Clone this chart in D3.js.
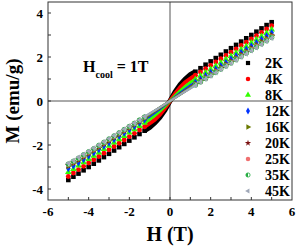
<!DOCTYPE html>
<html>
<head>
<meta charset="utf-8">
<script src="https://cdn.jsdelivr.net/npm/d3@7"></script>
<style>
  html, body { margin: 0; padding: 0; background: #fff; }
  svg { display: block; font-family: "Liberation Serif", "Times New Roman", serif; font-weight: bold; }
</style>
</head>
<body>
<div class="mh_graph"></div>
<script>
// field values (T)
const field = [-5, -4.75, -4.5, -4.25, -4, -3.75, -3.5, -3.25, -3, -2.75, -2.5, -2.25, -2, -1.75, -1.5, -1.25,
  -1, -0.75, -0.5, -0.25, 0, 0.25, 0.5, 0.75, 1,
  1.25, 1.5, 1.75, 2, 2.25, 2.5, 2.75, 3, 3.25, 3.5, 3.75, 4, 4.25, 4.5, 4.75, 5];

// magnetization (emu/g) per temperature
const m2K = [-3.59, -3.44, -3.30, -3.15, -3.00, -2.85, -2.70, -2.55, -2.40, -2.25, -2.10, -1.95, -1.80, -1.65, -1.50, -1.35,
  -1.20, -1.00, -0.75, -0.42, 0, 0.42, 0.75, 1.00, 1.20,
  1.33, 1.49, 1.65, 1.80, 1.95, 2.10, 2.25, 2.40, 2.55, 2.70, 2.85, 3.00, 3.15, 3.30, 3.45, 3.58];
const m4K = [-3.43, -3.27, -3.12, -2.97, -2.82, -2.67, -2.52, -2.37, -2.22, -2.07, -1.92, -1.77, -1.62, -1.47, -1.32, -1.17,
  -1.02, -0.85, -0.62, -0.33, 0, 0.33, 0.62, 0.85, 1.02,
  1.17, 1.32, 1.47, 1.62, 1.77, 1.92, 2.07, 2.22, 2.37, 2.52, 2.67, 2.82, 2.97, 3.12, 3.27, 3.42];
const m8K = [-3.23, -3.09, -2.94, -2.79, -2.64, -2.49, -2.34, -2.19, -2.04, -1.89, -1.74, -1.59, -1.44, -1.29, -1.14, -0.99,
  -0.84, -0.66, -0.46, -0.24, 0, 0.24, 0.46, 0.66, 0.84,
  0.99, 1.14, 1.29, 1.44, 1.59, 1.74, 1.89, 2.04, 2.19, 2.34, 2.49, 2.64, 2.79, 2.94, 3.09, 3.25];
const m12K = [-3.07, -2.94, -2.80, -2.65, -2.50, -2.35, -2.20, -2.05, -1.90, -1.75, -1.60, -1.45, -1.30, -1.15, -1.00, -0.85,
  -0.70, -0.53, -0.36, -0.18, 0, 0.18, 0.36, 0.53, 0.70,
  0.85, 1.00, 1.15, 1.30, 1.45, 1.60, 1.75, 1.90, 2.05, 2.20, 2.35, 2.50, 2.65, 2.80, 2.95, 3.10];
const m16K = [-2.96, -2.83, -2.69, -2.55, -2.40, -2.25, -2.11, -1.96, -1.81, -1.66, -1.52, -1.37, -1.22, -1.07, -0.93, -0.78,
  -0.63, -0.47, -0.32, -0.16, 0, 0.16, 0.32, 0.47, 0.63,
  0.78, 0.93, 1.07, 1.22, 1.37, 1.52, 1.66, 1.81, 1.96, 2.11, 2.25, 2.40, 2.55, 2.70, 2.84, 2.99];
const m20K = [-2.93, -2.80, -2.66, -2.52, -2.37, -2.22, -2.08, -1.93, -1.79, -1.64, -1.49, -1.35, -1.20, -1.05, -0.91, -0.76,
  -0.61, -0.45, -0.30, -0.15, 0, 0.15, 0.30, 0.45, 0.61,
  0.76, 0.91, 1.05, 1.20, 1.35, 1.49, 1.64, 1.79, 1.93, 2.08, 2.22, 2.37, 2.52, 2.66, 2.81, 2.96];
const m25K = [-2.90, -2.77, -2.63, -2.49, -2.34, -2.20, -2.05, -1.91, -1.76, -1.62, -1.47, -1.33, -1.18, -1.04, -0.89, -0.75,
  -0.60, -0.44, -0.29, -0.15, 0, 0.15, 0.29, 0.44, 0.60,
  0.75, 0.89, 1.04, 1.18, 1.33, 1.47, 1.62, 1.76, 1.91, 2.05, 2.20, 2.34, 2.49, 2.63, 2.78, 2.92];
const m35K = [-2.87, -2.74, -2.60, -2.45, -2.31, -2.17, -2.02, -1.88, -1.73, -1.59, -1.45, -1.30, -1.16, -1.02, -0.87, -0.73,
  -0.59, -0.44, -0.29, -0.14, 0, 0.14, 0.29, 0.44, 0.59,
  0.73, 0.87, 1.02, 1.16, 1.30, 1.45, 1.59, 1.73, 1.88, 2.02, 2.17, 2.31, 2.45, 2.60, 2.74, 2.89];
const m45K = [-2.83, -2.70, -2.56, -2.42, -2.28, -2.14, -2.00, -1.85, -1.71, -1.57, -1.43, -1.28, -1.14, -1.00, -0.86, -0.71,
  -0.57, -0.43, -0.29, -0.14, 0, 0.14, 0.29, 0.43, 0.57,
  0.71, 0.86, 1.00, 1.14, 1.28, 1.43, 1.57, 1.71, 1.85, 2.00, 2.14, 2.28, 2.42, 2.57, 2.71, 2.85];

const labels = ["2K", "4K", "8K", "12K", "16K", "20K", "25K", "35K", "45K"];
const values = [m2K, m4K, m8K, m12K, m16K, m20K, m25K, m35K, m45K];
const xTicks = [-6, -4, -2, 0, 2, 4, 6];
const yTicks = [-4, -2, 0, 2, 4];

const colors = ["#000000", "#ff0000", "#33ff00", "#0033ff", "#6b7a00", "#7a1010", "#f07070", "#1faa3c", "#a0a8b8"];
const shapes = ["square", "circle", "triUp", "diamond", "triRight", "star", "circle", "half", "triLeft"];
const coreWidth = [5, 4, 3, 2.5, 2.5, 2.2, 2.2, 2.2, 2.2];

const W = 297, H = 247;
const box = { left: 48, right: 292, top: 2, bottom: 200 };

const svg = d3.select(".mh_graph").append("svg").attr("width", W).attr("height", H);

const x = d3.scaleLinear().domain([-6, 6]).range([box.left, box.right]);
const y = d3.scaleLinear().domain([-4.5, 4.5]).range([box.bottom, box.top]);

// zero lines
svg.append("line").attr("x1", x(0)).attr("x2", x(0)).attr("y1", box.top).attr("y2", box.bottom)
  .attr("stroke", "#555").attr("stroke-width", 1);
svg.append("line").attr("x1", box.left).attr("x2", box.right).attr("y1", y(0)).attr("y2", y(0))
  .attr("stroke", "#555").attr("stroke-width", 1);

function marker(g, shape, color, s) {
  if (shape === "square") {
    g.append("path").attr("d", d3.symbol(d3.symbolSquare, s * s)()).attr("fill", color);
  } else if (shape === "circle") {
    g.append("path").attr("d", d3.symbol(d3.symbolCircle, s * s * 0.9)()).attr("fill", color);
  } else if (shape === "triUp") {
    g.append("path").attr("d", d3.symbol(d3.symbolTriangle, s * s * 0.9)()).attr("fill", color);
  } else if (shape === "diamond") {
    g.append("path").attr("d", d3.symbol(d3.symbolDiamond, s * s * 0.8)()).attr("fill", color);
  } else if (shape === "triRight") {
    g.append("path").attr("d", d3.symbol(d3.symbolTriangle, s * s * 0.8)()).attr("fill", color)
      .attr("transform", "rotate(90)");
  } else if (shape === "triLeft") {
    g.append("path").attr("d", d3.symbol(d3.symbolTriangle, s * s * 0.6)()).attr("fill", color)
      .attr("transform", "rotate(-90)");
  } else if (shape === "star") {
    g.append("path").attr("d", d3.symbol(d3.symbolStar, s * s * 0.7)()).attr("fill", color);
  } else if (shape === "half") {
    const r = s * 0.5;
    g.append("circle").attr("r", r).attr("fill", "#fff").attr("stroke", color).attr("stroke-width", 0.8);
    g.append("path").attr("d", `M0,${-r}A${r},${r} 0 0 0 0,${r}Z`).attr("fill", color);
  }
}

const line = d3.line().x((d) => x(d[0])).y((d) => y(d[1]));

values.forEach((vals, k) => {
  const pts = field.map((h, i) => [h, vals[i]]);
  // dense low-field part drawn as a thick trace
  svg.append("path")
    .datum(pts.filter((d) => Math.abs(d[0]) <= 1.25))
    .attr("d", line)
    .attr("fill", "none")
    .attr("stroke", colors[k])
    .attr("stroke-width", coreWidth[k]);

  pts.filter((d) => Math.abs(d[0]) >= 1.25).forEach((d) => {
    const g = svg.append("g").attr("transform", `translate(${x(d[0])},${y(d[1])})`);
    marker(g, shapes[k], colors[k], 4.6);
  });
});

// frame
svg.append("rect").attr("x", box.left).attr("y", box.top)
  .attr("width", box.right - box.left).attr("height", box.bottom - box.top)
  .attr("fill", "none").attr("stroke", "#333").attr("stroke-width", 1);

// ticks (inward)
d3.range(-5, 6, 1).forEach((t) => {
  svg.append("line").attr("x1", x(t)).attr("x2", x(t)).attr("y1", box.bottom).attr("y2", box.bottom - 3)
    .attr("stroke", "#333");
});
d3.range(-4, 5, 1).forEach((t) => {
  svg.append("line").attr("x1", box.left).attr("x2", box.left + 3).attr("y1", y(t)).attr("y2", y(t))
    .attr("stroke", "#333");
});

svg.selectAll(".xt").data(xTicks).enter().append("text")
  .attr("x", (d) => x(d)).attr("y", 216).attr("text-anchor", "middle")
  .attr("font-size", 13).text((d) => d);

svg.selectAll(".yt").data(yTicks).enter().append("text")
  .attr("x", 43).attr("y", (d) => y(d) + 4.5).attr("text-anchor", "end")
  .attr("font-size", 13).text((d) => d);

// axis titles
svg.append("text").attr("x", 170).attr("y", 241).attr("text-anchor", "middle")
  .attr("font-size", 20).text("H (T)");
svg.append("text").attr("transform", "translate(19,101) rotate(-90)").attr("text-anchor", "middle")
  .attr("font-size", 19).text("M (emu/g)");

// annotation
const ann = svg.append("text").attr("x", 83).attr("y", 72).attr("font-size", 16);
ann.append("tspan").text("H");
ann.append("tspan").attr("font-size", 10).attr("dy", 6).text("cool");
ann.append("tspan").attr("dy", -6).text(" = 1T");

// legend
labels.forEach((lab, k) => {
  const ly = 63 + k * 16;
  const g = svg.append("g").attr("transform", `translate(248,${ly})`);
  marker(g, shapes[k], colors[k], 4.2);
  svg.append("text").attr("x", 265).attr("y", ly + 5).attr("font-size", 14).text(lab);
});
</script>
</body>
</html>
